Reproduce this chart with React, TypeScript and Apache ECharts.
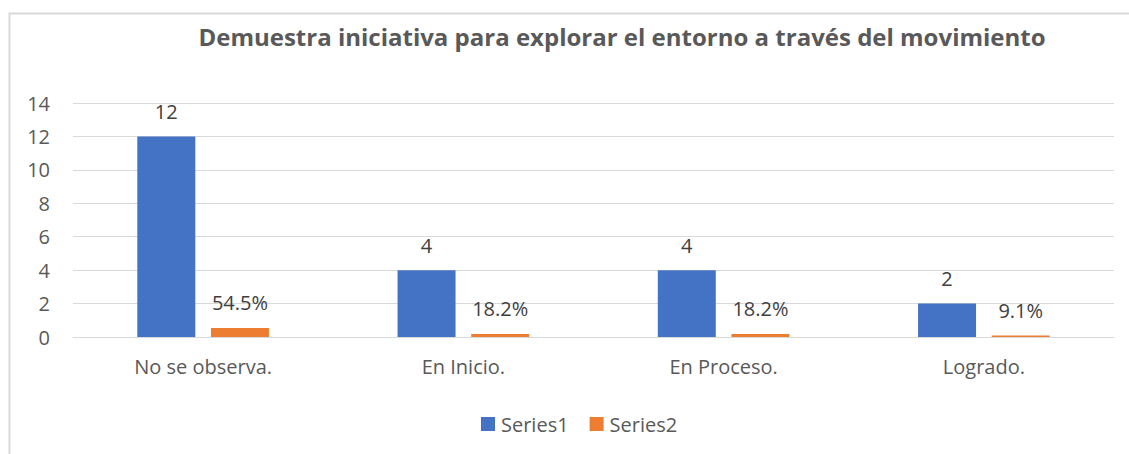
import React, { useEffect, useRef } from "react";
import * as echarts from "echarts";

const titleText = "Demuestra iniciativa para explorar el entorno a través del movimiento";
const categories = ["No se observa.", "En Inicio.", "En Proceso.", "Logrado."];
const series1 = [12, 4, 4, 2];
const series2 = [0.545, 0.182, 0.182, 0.091];
const yTicks = { min: 0, max: 14, interval: 2 };

const FONT = "'Open Sans', 'Noto Sans', sans-serif";

export default function App() {
  const ref = useRef<HTMLDivElement>(null);
  useEffect(() => {
    if (!ref.current) return;
    const chart = echarts.init(ref.current, undefined, { renderer: "svg" });
    chart.setOption({
      animation: false,
      textStyle: { fontFamily: FONT },
      title: {
        text: titleText,
        left: 617,
        textAlign: "center",
        top: 19,
        textStyle: { fontFamily: FONT, fontSize: 24, fontWeight: "bold", color: "#595959" },
      },
      graphic: [
        {
          type: "polyline",
          shape: { points: [[9.5, 460], [9.5, 13.5], [1140, 13.5]] },
          style: { stroke: "#d9d9d9", lineWidth: 2, fill: "none" },
          silent: true,
        },
      ],
      legend: {
        data: ["Series1", "Series2"],
        left: 476,
        top: 409,
        itemWidth: 14,
        itemHeight: 14,
        itemGap: 21,
        icon: "rect",
        textStyle: { fontFamily: FONT, fontSize: 20, color: "#595959", padding: [0, 0, 0, 1] },
      },
      grid: { left: 73, right: 15, top: 103, bottom: 117, containLabel: false },
      xAxis: {
        type: "category",
        data: categories,
        axisLine: { show: true, lineStyle: { color: "#d9d9d9", width: 1 } },
        axisTick: { show: false },
        axisLabel: { fontFamily: FONT, fontSize: 20, color: "#595959", margin: 19 },
      },
      yAxis: {
        type: "value",
        min: yTicks.min,
        max: yTicks.max,
        interval: yTicks.interval,
        axisLine: { show: false },
        axisTick: { show: false },
        splitLine: { lineStyle: { color: "#d9d9d9", width: 1 } },
        axisLabel: { fontFamily: FONT, fontSize: 20, color: "#595959", margin: 23 },
      },
      series: [
        {
          name: "Series1",
          type: "bar",
          data: series1,
          barWidth: 58,
          barGap: "27%",
          itemStyle: { color: "#4472C4" },
          label: {
            show: true,
            position: "top",
            distance: 15,
            fontFamily: FONT,
            fontSize: 20,
            color: "#404040",
          },
        },
        {
          name: "Series2",
          type: "bar",
          data: series2,
          barWidth: 58,
          itemStyle: { color: "#ED7D31" },
          label: {
            show: true,
            position: "top",
            distance: 15,
            fontFamily: FONT,
            fontSize: 20,
            color: "#404040",
            formatter: (p: any) => (p.value * 100).toFixed(1) + "%",
          },
        },
      ],
    });
    return () => chart.dispose();
  }, []);
  return (
    <div
      ref={ref}
      style={{ position: "fixed", left: 0, top: 0, width: 1129, height: 454, background: "#fff" }}
    />
  );
}
